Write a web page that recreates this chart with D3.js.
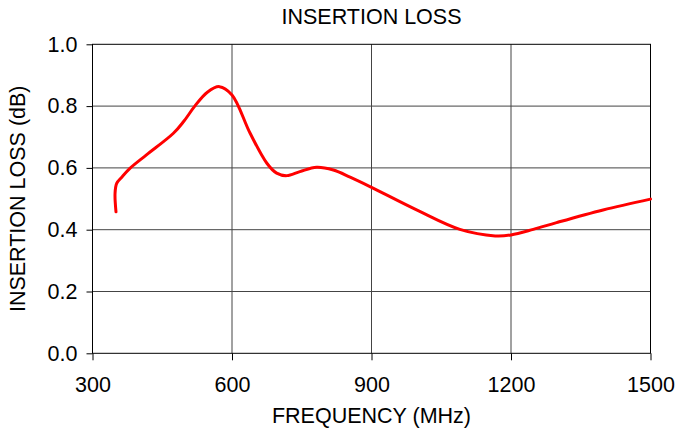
<!DOCTYPE html>
<html>
<head>
<meta charset="utf-8">
<script src="https://cdn.jsdelivr.net/npm/d3@7"></script>
<style>
  html, body { margin: 0; padding: 0; background: #fff; }
  svg { display: block; font-family: "Liberation Sans", Arial, sans-serif; }
</style>
</head>
<body>
<svg id="chart" width="677" height="431"></svg>
<script>
const title = "INSERTION LOSS";
const xLabel = "FREQUENCY (MHz)";
const yLabel = "INSERTION LOSS (dB)";
const xTicks = [300, 600, 900, 1200, 1500];
const yTicks = [0.0, 0.2, 0.4, 0.6, 0.8, 1.0];
const freq = [350.5, 348.5, 352, 363, 381, 416, 474, 496, 520, 547, 573, 600, 639, 675, 696, 718, 746, 782, 818, 854, 900, 997, 1090, 1166, 1200, 1248, 1298, 1398, 1500];
const loss = [0.458, 0.518, 0.550, 0.570, 0.599, 0.642, 0.712, 0.750, 0.800, 0.845, 0.863, 0.836, 0.712, 0.615, 0.583, 0.575, 0.588, 0.602, 0.593, 0.570, 0.537, 0.464, 0.401, 0.380, 0.383, 0.401, 0.423, 0.464, 0.499];

const FS = 21.5;
const svg = d3.select("#chart");
const m = { left: 92.5, right: 650.5, top: 44.3, bottom: 353.3 };
const x = d3.scaleLinear().domain([300, 1500]).range([m.left, m.right]);
const y = d3.scaleLinear().domain([0, 1]).range([m.bottom, m.top]);

// grid
svg.append("g").selectAll("line").data(xTicks.slice(1, -1)).join("line")
  .attr("x1", d => x(d)).attr("x2", d => x(d)).attr("y1", m.top).attr("y2", m.bottom)
  .attr("stroke", "#444").attr("stroke-width", 1);
svg.append("g").selectAll("line").data(yTicks.slice(1, -1)).join("line")
  .attr("x1", m.left).attr("x2", m.right).attr("y1", d => y(d)).attr("y2", d => y(d))
  .attr("stroke", "#444").attr("stroke-width", 1);
// frame
svg.append("rect").attr("x", m.left).attr("y", m.top)
  .attr("width", m.right - m.left).attr("height", m.bottom - m.top)
  .attr("fill", "none").attr("stroke", "#000").attr("stroke-width", 1);

const xAxis = d3.axisBottom(x).tickValues(xTicks).tickSize(7).tickPadding(16).tickFormat(d3.format("d"));
const gx = svg.append("g").attr("transform", `translate(0,${m.bottom})`).call(xAxis);
gx.select(".domain").remove();
gx.selectAll("text").attr("font-size", FS).attr("fill", "#000").attr("font-family", "Liberation Sans, Arial, sans-serif");
gx.selectAll("line").attr("stroke", "#000");

const yAxis = d3.axisLeft(y).tickValues(yTicks).tickSize(6).tickPadding(9).tickFormat(d3.format(".1f"));
const gy = svg.append("g").attr("transform", `translate(${m.left},0)`).call(yAxis);
gy.select(".domain").remove();
gy.selectAll("text").attr("font-size", FS).attr("fill", "#000").attr("font-family", "Liberation Sans, Arial, sans-serif");
gy.selectAll("line").attr("stroke", "#000");

// curve
const line = d3.line().x((d, i) => x(freq[i])).y((d, i) => y(loss[i])).curve(d3.curveCatmullRom.alpha(0.5));
svg.append("path").datum(loss).attr("d", line)
  .attr("fill", "none").attr("stroke", "#ff0000").attr("stroke-width", 3)
  .attr("stroke-linejoin", "round").attr("stroke-linecap", "round");

// titles
svg.append("text").attr("x", (m.left + m.right) / 2).attr("y", 24)
  .attr("text-anchor", "middle").attr("font-size", FS).text(title);
svg.append("text").attr("x", (m.left + m.right) / 2).attr("y", 422.5)
  .attr("text-anchor", "middle").attr("font-size", FS).text(xLabel);
svg.append("text").attr("transform", `translate(25,${(m.top + m.bottom) / 2}) rotate(-90)`)
  .attr("text-anchor", "middle").attr("font-size", FS).text(yLabel);
</script>
</body>
</html>
